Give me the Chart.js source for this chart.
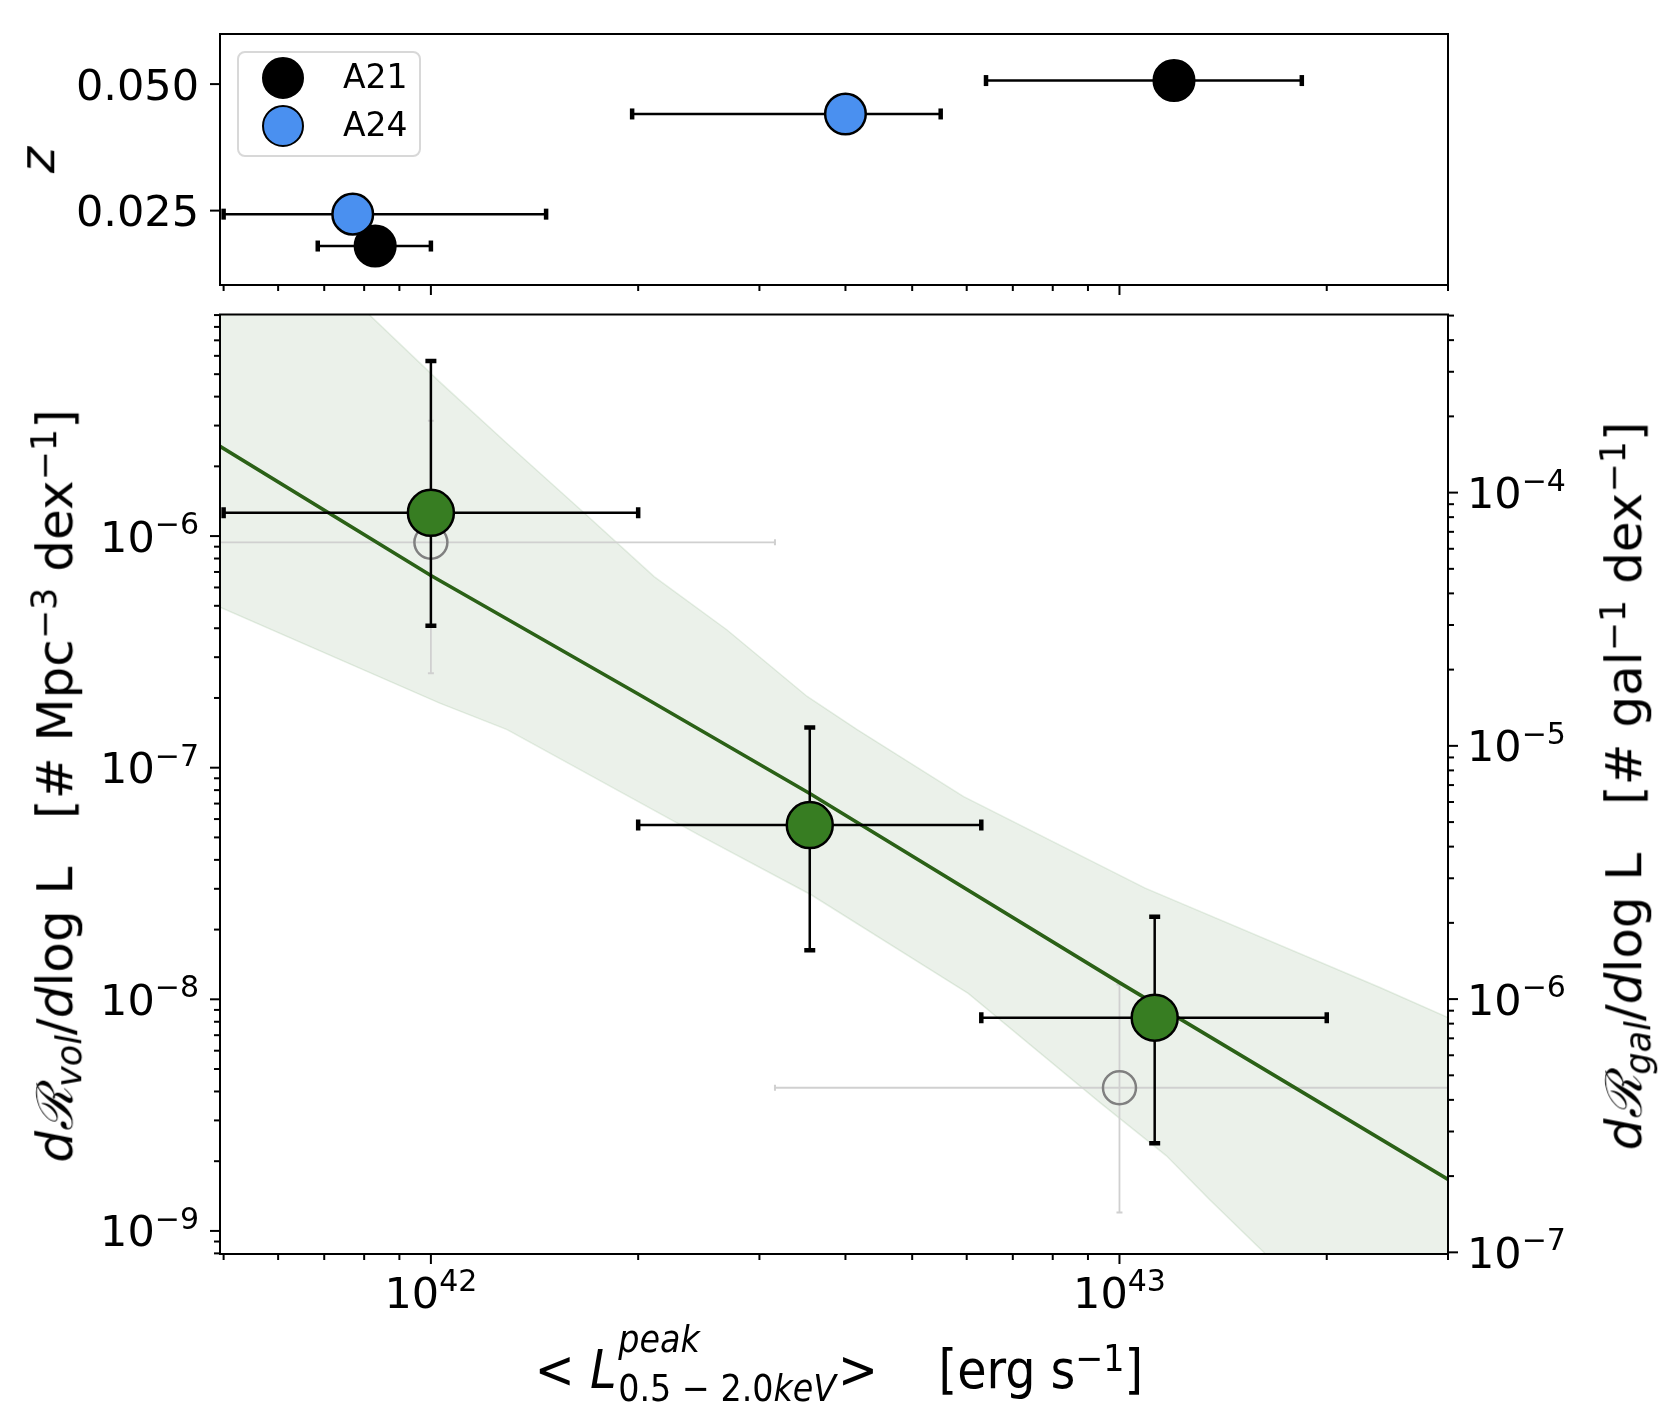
<!DOCTYPE html>
<html>
<head>
<meta charset="utf-8">
<script src="https://cdn.jsdelivr.net/npm/chart.js@4.4.1/dist/chart.umd.min.js"></script>
<style>
  body { margin: 0; background: #fff; }
  #wrap { position: relative; width: 1680px; height: 1410px; overflow: hidden; font-family: 'DejaVu Sans', sans-serif; color: #000; }
  canvas { position: absolute; left: 0; top: 0; }
  .lab { position: absolute; white-space: nowrap; font-size: 50px; line-height: 1.15; transform: translate(-50%, -50%) rotate(-90deg); }
  .lab sup, .lab sub, #xlab sup { font-size: 0.7em; line-height: 0; }
  .lab sup, #xlab sup { vertical-align: 0.45em; }
  .lab sub { vertical-align: -0.25em; }
  .scr { font-family: 'DejaVu Serif', serif; font-style: italic; }
  #xlab { position: absolute; white-space: nowrap; font-size: 53px; line-height: 1.15; transform: translateX(-50%);
          font-family: 'DejaVu Sans Condensed', 'Liberation Sans Narrow', 'DejaVu Sans', sans-serif; font-stretch: condensed; }
  #xlab .ss { display: inline-flex; flex-direction: column; font-size: 0.7em; line-height: 1.33; vertical-align: 0.97em; margin: 0 0.05em; }
  #legend { position: absolute; left: 237px; top: 51px; width: 184px; height: 106px; box-sizing: border-box;
            border: 2px solid #d8d8d8; border-radius: 8px; background: rgba(255,255,255,0.8); }
  #legend .dot { position: absolute; left: 23px; width: 38px; height: 38px; border: 2px solid #000; border-radius: 50%; }
  #legend .txt { position: absolute; left: 104px; font-size: 33px; line-height: 42px; height: 42px; }
</style>
</head>
<body>
<div id="wrap">
  <canvas id="cBottom" width="1680" height="1410"></canvas>
  <canvas id="cTop" width="1680" height="1410"></canvas>

  <div id="legend">
    <span class="dot" style="top:4px; background:#000"></span><span class="txt" style="top:3px">A21</span>
    <span class="dot" style="top:52px; background:#4a90f0"></span><span class="txt" style="top:51px">A24</span>
  </div>

  <div class="lab" style="left:38px; top:160px"><i>z</i></div>
  <div class="lab" style="left:56px; top:786px"><i>d</i><span class="scr">ℛ</span><sub><i>vol</i></sub>/<i>d</i>log L&nbsp;&nbsp;&nbsp;[# Mpc<sup>−3</sup> dex<sup>−1</sup>]</div>
  <div class="lab" style="left:1625px; top:786px"><i>d</i><span class="scr">ℛ</span><sub><i>gal</i></sub>/<i>d</i>log L&nbsp;&nbsp;&nbsp;[# gal<sup>−1</sup> dex<sup>−1</sup>]</div>
  <div id="xlab" style="left:839px; top:1315px">&lt;&nbsp;<i>L</i><span class="ss"><span><i>peak</i></span><span>0.5 − 2.0<i>keV</i></span></span>&gt;&nbsp;&nbsp;&nbsp;&nbsp;[erg s<sup>−1</sup>]</div>
</div>

<script>
// ---- top panel: redshift of the sources ----
const a21Lum = [8.3e41, 1.2e43];
const a21LumLo = [6.85e41, 6.4e42];
const a21LumHi = [1.0e42, 1.84e43];
const a21Z = [0.0180, 0.0507];

const a24Lum = [7.7e41, 4.0e42];
const a24LumLo = [5.0e41, 1.96e42];
const a24LumHi = [1.47e42, 5.5e42];
const a24Z = [0.0243, 0.0441];

// ---- bottom panel: rate per luminosity bin ----
const lumBins = [1.0e42, 3.55e42, 1.125e43];
const lumBinLo = [5.0e41, 2.0e42, 6.3e42];
const lumBinHi = [2.0e42, 6.3e42, 2.0e43];
const rateVol = [1.26e-6, 5.65e-8, 8.33e-9];
const rateVolLo = [4.1e-7, 1.63e-8, 2.39e-9];
const rateVolHi = [5.7e-6, 1.49e-7, 2.27e-8];

// earlier estimate (grey, hollow)
const prevLum = [1.0e42, 1.0e43];
const prevLumLo = [3.16e41, 3.16e42];
const prevLumHi = [3.16e42, 3.16e43];
const prevRate = [9.4e-7, 4.15e-9];
const prevRateLo = [2.56e-7, 1.2e-9];
const prevRateHi = [3.15e-6, 1.16e-8];

// best fit and its band
const fitLum = [4.94e41, 1.0e42, 2.0e42, 3.55e42, 1.0e43, 3.0e43];
const fitRate = [2.44e-6, 6.76e-7, 2.08e-7, 7.74e-8, 1.18e-8, 1.67e-9];
const bandUpLum = [4.94e41, 8.07e41, 1.03e42, 1.29e42, 1.65e42, 2.11e42, 2.69e42, 3.52e42, 4.16e42, 5.94e42, 1.09e43, 2.39e43, 3.0e43];
const bandUpRate = [3.6e-5, 9.25e-6, 4.63e-6, 2.51e-6, 1.30e-6, 6.68e-7, 3.94e-7, 2.03e-7, 1.46e-7, 7.5e-8, 3.02e-8, 1.125e-8, 8.35e-9];
const bandLoLum = [4.94e41, 1.03e42, 1.29e42, 2.46e42, 3.57e42, 6.03e42, 9.37e42, 1.17e43, 1.35e43, 1.62e43, 3.0e43];
const bandLoRate = [4.93e-7, 1.90e-7, 1.46e-7, 5.09e-8, 2.82e-8, 1.06e-8, 3.58e-9, 2.11e-9, 1.37e-9, 8.09e-10, 1.0e-10];

// axes
const lumMin = 4.94e41, lumMax = 3.0e43;
const zMin = 0.0103, zMax = 0.0599;
const volMin = 7.95e-10, volMax = 9.05e-6;
const galMin = 9.85e-8, galMax = 5.05e-4;
const lumMajorTicks = [1e42, 1e43];
const zTicks = [0.025, 0.050];
const zTickLabels = ['0.025', '0.050'];
const volMajorTicks = [1e-9, 1e-8, 1e-7, 1e-6];
const galMajorTicks = [1e-7, 1e-6, 1e-5, 1e-4];

const minorTicks = (lo, hi) => {
    let out = [];
    for (let e = Math.floor(Math.log10(lo)); e <= Math.ceil(Math.log10(hi)); e++) {
        for (let m = 2; m <= 9; m++) {
            const v = m * Math.pow(10, e);
            if (v >= lo * 0.999 && v <= hi * 1.001) out.push(v);
        }
    }
    return out;
};

const pts = (xs, ys) => xs.map((x, i) => ({x: x, y: ys[i]}));

function hBar(lo, hi, y, st) {
    return {
        data: [{x: lo, y: y}, {x: hi, y: y}], showLine: true,
        borderColor: st.color, borderWidth: st.width,
        pointStyle: 'line', pointRotation: 90, pointRadius: st.cap,
        pointBorderWidth: st.capWidth, pointBorderColor: st.color, pointBackgroundColor: st.color,
        order: st.order
    };
}
function vBar(x, lo, hi, st) {
    let d = hBar(0, 0, 0, st);
    d.data = [{x: x, y: lo}, {x: x, y: hi}];
    d.pointRotation = 0;
    return d;
}

// frame, tick marks and tick labels in the matplotlib way
const tickFont = "43px 'DejaVu Sans'";
const supFont = "30px 'DejaVu Sans'";
const expText = v => {
    const e = Math.round(Math.log10(v));
    return (e < 0 ? '−' : '') + Math.abs(e);
};

const frameTicks = {
    id: 'frameTicks',
    afterDraw(chart, args, opts) {
        const ctx = chart.ctx;
        const a = chart.chartArea;
        ctx.save();
        ctx.strokeStyle = '#000';
        ctx.fillStyle = '#000';
        ctx.lineWidth = 2;
        ctx.strokeRect(a.left, a.top, a.right - a.left, a.bottom - a.top);
        opts.axes.forEach(ax => {
            const s = chart.scales[ax.id];
            const inside = v => v >= s.min * 0.9999 && v <= s.max * 1.0001;
            const mark = (v, len) => {
                const p = s.getPixelForValue(v);
                ctx.beginPath();
                if (ax.side == 'bottom') { ctx.moveTo(p, a.bottom); ctx.lineTo(p, a.bottom + len); }
                if (ax.side == 'left') { ctx.moveTo(a.left, p); ctx.lineTo(a.left - len, p); }
                if (ax.side == 'right') { ctx.moveTo(a.right, p); ctx.lineTo(a.right + len, p); }
                ctx.stroke();
            };
            ax.minor.filter(inside).forEach(v => mark(v, 6));
            ax.major.filter(inside).forEach((v, i) => {
                mark(v, 10);
                if (!ax.labels) return;
                const p = s.getPixelForValue(v);
                ctx.textAlign = 'left';
                ctx.textBaseline = 'alphabetic';
                if (ax.labels !== 'pow') {
                    ctx.font = tickFont;
                    ctx.textAlign = 'right';
                    ctx.fillText(ax.labels[i], a.left - 21, p + 15.5);
                    return;
                }
                ctx.font = tickFont;
                const wb = ctx.measureText('10').width;
                ctx.font = supFont;
                const ex = expText(v);
                const we = ctx.measureText(ex).width;
                let x0, base;
                if (ax.side == 'bottom') { x0 = p - (wb + we) / 2; base = a.bottom + 54; }
                if (ax.side == 'left') { x0 = a.left - 21 - wb - we; base = p + 15.5; }
                if (ax.side == 'right') { x0 = a.right + 19; base = p + 15.5; }
                ctx.font = tickFont;
                ctx.fillText('10', x0, base);
                ctx.font = supFont;
                ctx.fillText(ex, x0 + wb, base - 17.5);
            });
        });
        ctx.restore();
    }
};

const hidden = {ticks: {display: false}, grid: {display: false}, border: {display: false}};

// ---- top chart ----
const topBar = {color: '#000', width: 2.5, cap: 5.5, capWidth: 4.5, order: 5};
let topSets = [];
a21Lum.forEach((l, i) => topSets.push(hBar(a21LumLo[i], a21LumHi[i], a21Z[i], topBar)));
a24Lum.forEach((l, i) => topSets.push(hBar(a24LumLo[i], a24LumHi[i], a24Z[i], topBar)));
topSets.push({
    label: 'A21', data: pts(a21Lum, a21Z), showLine: false, order: 2,
    pointRadius: 20.3, pointBackgroundColor: '#000', pointBorderColor: '#000', pointBorderWidth: 2.5
});
topSets.push({
    label: 'A24', data: pts(a24Lum, a24Z), showLine: false, order: 1,
    pointRadius: 20.3, pointBackgroundColor: '#4a90f0', pointBorderColor: '#000', pointBorderWidth: 2.5
});

new Chart(document.getElementById('cTop'), {
    type: 'scatter',
    data: {datasets: topSets},
    options: {
        responsive: false, animation: false, devicePixelRatio: 1, events: [],
        layout: {padding: {top: 34, right: 232, left: 0, bottom: 0}},
        plugins: {
            legend: {display: false}, tooltip: {enabled: false},
            frameTicks: {axes: [
                {id: 'x', side: 'bottom', major: lumMajorTicks, minor: minorTicks(lumMin, lumMax), labels: false},
                {id: 'y', side: 'left', major: zTicks, minor: [], labels: zTickLabels}
            ]}
        },
        scales: {
            x: Object.assign({type: 'logarithmic', min: lumMin, max: lumMax, position: 'bottom',
                afterFit: s => { s.height = 1410 - 285; }}, hidden),
            y: Object.assign({type: 'linear', min: zMin, max: zMax, position: 'left',
                afterFit: s => { s.width = 220; }}, hidden)
        }
    },
    plugins: [frameTicks]
});

// ---- bottom chart ----
const greyBar = {color: '#d0d0d0', width: 1.8, cap: 3, capWidth: 2, order: 15};
const blackBar = {color: '#000', width: 2.5, cap: 5.5, capWidth: 4.5, order: 5};
let botSets = [
    {data: pts(bandUpLum, bandUpRate), showLine: true, pointRadius: 0, fill: '+1', order: 20,
     borderColor: 'rgba(60,120,50,0.12)', borderWidth: 1.5, backgroundColor: 'rgba(60,120,50,0.1)'},
    {data: pts(bandLoLum, bandLoRate), showLine: true, pointRadius: 0, fill: false, order: 19,
     borderColor: 'rgba(60,120,50,0.12)', borderWidth: 1.5}
];
prevLum.forEach((l, i) => {
    botSets.push(hBar(prevLumLo[i], prevLumHi[i], prevRate[i], greyBar));
    botSets.push(vBar(l, prevRateLo[i], prevRateHi[i], greyBar));
});
botSets.push({data: pts(prevLum, prevRate), showLine: false, order: 14,
    pointRadius: 16.5, pointBackgroundColor: 'rgba(0,0,0,0)', pointBorderColor: '#808080', pointBorderWidth: 2.5});
botSets.push({data: pts(fitLum, fitRate), showLine: true, pointRadius: 0, order: 12,
    borderColor: '#2b6117', borderWidth: 3.6});
lumBins.forEach((l, i) => {
    botSets.push(hBar(lumBinLo[i], lumBinHi[i], rateVol[i], blackBar));
    botSets.push(vBar(l, rateVolLo[i], rateVolHi[i], blackBar));
});
botSets.push({data: pts(lumBins, rateVol), showLine: false, order: 1,
    pointRadius: 23, pointBackgroundColor: '#377d22', pointBorderColor: '#000', pointBorderWidth: 2.5});

new Chart(document.getElementById('cBottom'), {
    type: 'scatter',
    data: {datasets: botSets},
    options: {
        responsive: false, animation: false, devicePixelRatio: 1, events: [],
        layout: {padding: {top: 314.5, right: 0, left: 0, bottom: 0}},
        plugins: {
            legend: {display: false}, tooltip: {enabled: false},
            frameTicks: {axes: [
                {id: 'x', side: 'bottom', major: lumMajorTicks, minor: minorTicks(lumMin, lumMax), labels: 'pow'},
                {id: 'y', side: 'left', major: volMajorTicks, minor: minorTicks(volMin, volMax), labels: 'pow'},
                {id: 'y2', side: 'right', major: galMajorTicks, minor: minorTicks(galMin, galMax), labels: 'pow'}
            ]}
        },
        scales: {
            x: Object.assign({type: 'logarithmic', min: lumMin, max: lumMax, position: 'bottom',
                afterFit: s => { s.height = 1410 - 1254; }}, hidden),
            y: Object.assign({type: 'logarithmic', min: volMin, max: volMax, position: 'left',
                afterFit: s => { s.width = 220; }}, hidden),
            y2: Object.assign({type: 'logarithmic', min: galMin, max: galMax, position: 'right',
                afterFit: s => { s.width = 232; }}, hidden)
        }
    },
    plugins: [frameTicks]
});
</script>
</body>
</html>
